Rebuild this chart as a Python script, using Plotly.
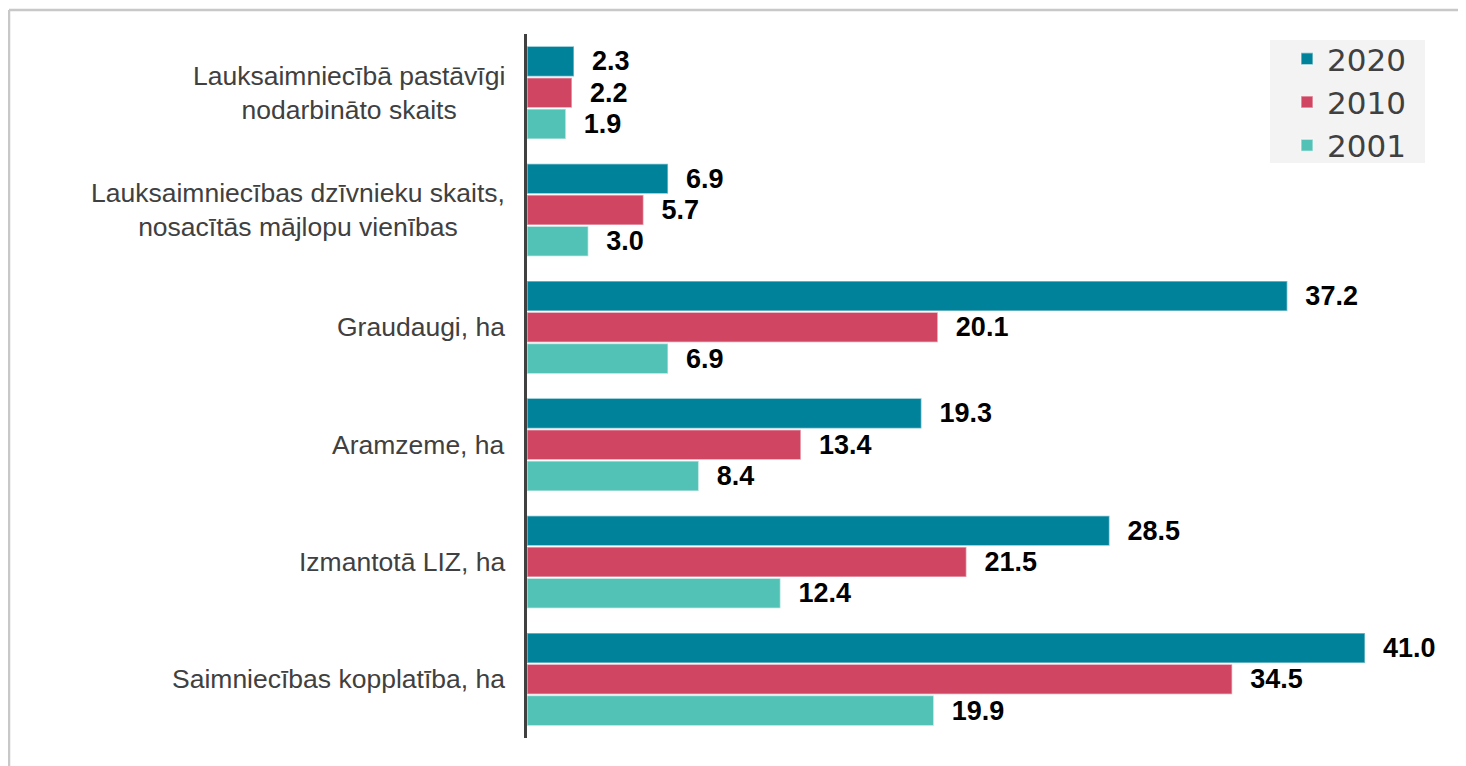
import plotly.graph_objects as go

categories = [
    "Lauksaimniecībā pastāvīgi<br>nodarbināto skaits",
    "Lauksaimniecības dzīvnieku skaits,<br>nosacītās mājlopu vienības",
    "Graudaugi, ha",
    "Aramzeme, ha",
    "Izmantotā LIZ, ha",
    "Saimniecības kopplatība, ha",
]
cat_keys = ["c1", "c2", "c3", "c4", "c5", "c6"]
series_names = ["2020", "2010", "2001"]
values_2020 = [2.3, 6.9, 37.2, 19.3, 28.5, 41.0]
values_2010 = [2.2, 5.7, 20.1, 13.4, 21.5, 34.5]
values_2001 = [1.9, 3.0, 6.9, 8.4, 12.4, 19.9]
colors = ["#00829B", "#D04561", "#52C1B6"]

# page body has 8px margin
W, H = 1458, 758
ML, MR, MT, MB = 519, 20, 26, 28
PW = W - ML - MR
PH = H - MT - MB

def px_x(x):
    return (x - ML) / PW

def px_y(y):
    return 1 - (y - MT) / PH

fig = go.Figure()
for name, vals, col in zip(series_names, [values_2020, values_2010, values_2001], colors):
    fig.add_trace(go.Bar(
        y=cat_keys, x=vals, name=name, orientation="h",
        marker=dict(color=col, line=dict(color="rgba(255,255,255,0.5)", width=1.5)),
        text=vals,
        texttemplate="\u00a0\u00a0%{x:.1f}",
        textposition="outside",
        textfont=dict(family="Liberation Sans, Arial", size=27, color="#000000", weight="bold"),
        cliponaxis=False,
    ))

for key, lab in zip(cat_keys, categories):
    fig.add_annotation(
        x=0, y=key, xref="x", yref="y", text=lab, showarrow=False,
        xanchor="right", yanchor="middle", align="center", xshift=-20,
        font=dict(family="Liberation Sans, Arial", size=26.5, color="#404040"),
    )

# outer frame (top and left grey border)
fig.add_shape(type="line", xref="paper", yref="paper", x0=px_x(1), x1=px_x(W + 20), y0=px_y(2), y1=px_y(2),
              line=dict(color="#C8C8C8", width=2.5))
fig.add_shape(type="line", xref="paper", yref="paper", x0=px_x(1), x1=px_x(1), y0=px_y(2), y1=-0.2,
              line=dict(color="#C8C8C8", width=2.5))
# legend background box
fig.add_shape(type="rect", xref="paper", yref="paper", x0=px_x(1262), x1=px_x(1417), y0=px_y(155), y1=px_y(32),
              fillcolor="#F3F3F3", line=dict(width=0), layer="below")

fig.update_layout(
    width=W, height=H,
    margin=dict(l=ML, r=MR, t=MT, b=MB),
    paper_bgcolor="white", plot_bgcolor="rgba(0,0,0,0)",
    barmode="group", bargap=0.2, bargroupgap=0.04,
    showlegend=True,
    legend=dict(
        x=px_x(1279), y=px_y(24), xanchor="left", yanchor="top",
        bgcolor="rgba(0,0,0,0)", traceorder="normal",
        font=dict(family="DejaVu Sans, Verdana", size=31, color="#404040"),
        itemwidth=30,
    ),
    xaxis=dict(range=[0, PW / 20.44], showgrid=False, zeroline=False, showticklabels=False,
               showline=False, fixedrange=True),
    yaxis=dict(autorange="reversed", showticklabels=False, showgrid=False, zeroline=False,
               showline=True, linecolor="#404040", linewidth=3, ticks=""),
)

fig.write_html("out.html")
